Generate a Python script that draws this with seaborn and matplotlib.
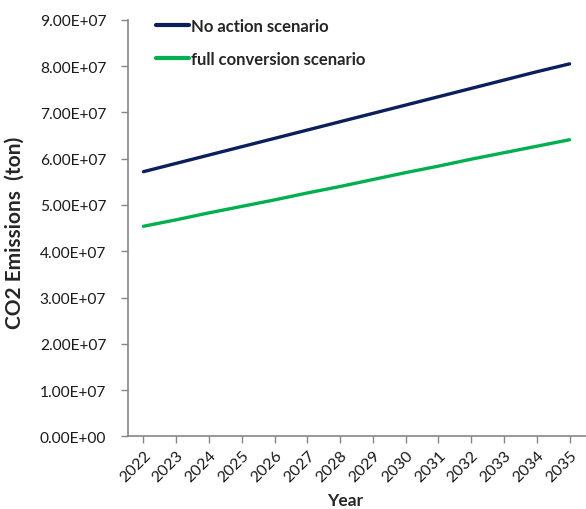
import matplotlib
matplotlib.use("Agg")
import matplotlib.pyplot as plt
from matplotlib.ticker import FuncFormatter, MultipleLocator
import seaborn as sns
import pandas as pd

years = list(range(2022, 2036))
no_action = [5.72e7, 5.90e7, 6.08e7, 6.26e7, 6.44e7, 6.62e7, 6.80e7,
             6.98e7, 7.16e7, 7.34e7, 7.52e7, 7.70e7, 7.88e7, 8.05e7]
full_conversion = [4.54e7, 4.68e7, 4.83e7, 4.97e7, 5.11e7, 5.26e7, 5.40e7,
                   5.55e7, 5.70e7, 5.84e7, 5.99e7, 6.13e7, 6.27e7, 6.41e7]
series_names = ["No action scenario", "full conversion scenario"]
series_colors = ["#0B1F5C", "#00B050"]

df = pd.DataFrame({
    "Year": years * 2,
    "Emissions": no_action + full_conversion,
    "Scenario": [series_names[0]] * len(years) + [series_names[1]] * len(years),
})

sns.set_theme(style="white")
plt.rcParams["font.family"] = ["Lato", "DejaVu Sans"]

fig = plt.figure(figsize=(5.86, 5.10), dpi=100)
ax = fig.add_axes([0.218, 0.1425, 0.782, 0.8165])

sns.lineplot(data=df, x="Year", y="Emissions", hue="Scenario",
             palette=dict(zip(series_names, series_colors)),
             linewidth=2.4, ax=ax)

ax.set_xlim(2021.52, 2035.5)
ax.set_ylim(0, 9e7)
ax.yaxis.set_major_locator(MultipleLocator(1e7))
ax.set_xticks(years)
ax.set_xticklabels([str(y) for y in years], rotation=45, ha="right",
                   rotation_mode="anchor", fontsize=11.5)
ax.yaxis.set_major_formatter(FuncFormatter(lambda v, p: f"{v:.2E}"))
for lbl in ax.get_yticklabels():
    lbl.set_fontsize(11.2)

ax.tick_params(axis="both", which="major", direction="out", length=5,
               width=1, color="#868686", colors="#1a1a1a", left=True, bottom=True)
ax.tick_params(axis="x", pad=3)
ax.tick_params(axis="y", pad=10.5)

for side in ["top", "right"]:
    ax.spines[side].set_visible(False)
for side in ["left", "bottom"]:
    ax.spines[side].set_color("#868686")
    ax.spines[side].set_linewidth(1.2)

ax.set_xlabel("Year", fontsize=12.5, fontweight="bold")
ax.set_ylabel("CO2 Emissions  (ton)", fontsize=15, fontweight="bold")
ax.xaxis.set_label_coords(0.4735, -0.134)
ax.yaxis.set_label_coords(-0.224, 0.49)

leg = ax.legend(loc="upper left", bbox_to_anchor=(0.029, 1.04), frameon=False,
                handlelength=1.95, handletextpad=0.12, labelspacing=1.0,
                prop={"weight": "bold", "size": 12})
for line in leg.get_lines():
    line.set_linewidth(3)

fig.savefig("out.png", dpi=100)
